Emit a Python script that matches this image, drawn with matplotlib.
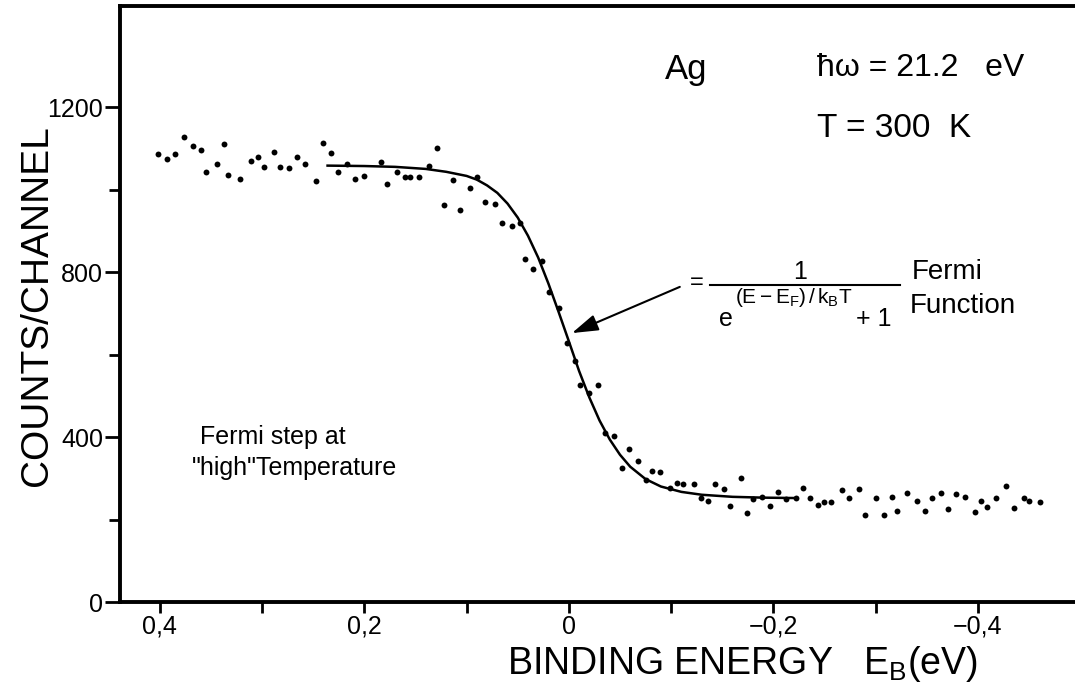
import numpy as np
import matplotlib
matplotlib.use('Agg')
import matplotlib.pyplot as plt
from matplotlib.ticker import FixedLocator, FuncFormatter

# lettering: Arial-like sans, fall back to DejaVu
plt.rcParams['font.family'] = ['Liberation Sans', 'DejaVu Sans']
plt.rcParams['mathtext.fontset'] = 'custom'
plt.rcParams['mathtext.rm'] = 'Liberation Sans'
plt.rcParams['mathtext.it'] = 'Liberation Sans'
plt.rcParams['mathtext.default'] = 'regular'

energy = [0.402, 0.393, 0.385, 0.376, 0.368, 0.360, 0.355, 0.344, 0.337, 0.333,
          0.322, 0.311, 0.304, 0.298, 0.288, 0.283, 0.274, 0.266, 0.258, 0.247,
          0.240, 0.233, 0.226, 0.217, 0.209, 0.200, 0.184, 0.178, 0.168, 0.160,
          0.155, 0.147, 0.137, 0.129, 0.122, 0.113, 0.106, 0.097, 0.090, 0.082,
          0.072, 0.065, 0.056, 0.048, 0.043, 0.035, 0.026, 0.019, 0.010, 0.002,
          -0.006, -0.011, -0.020, -0.028, -0.035, -0.044, -0.052, -0.059, -0.068, -0.075,
          -0.081, -0.089, -0.099, -0.106, -0.112, -0.122, -0.129, -0.136, -0.143, -0.152,
          -0.158, -0.168, -0.174, -0.180, -0.189, -0.197, -0.205, -0.212, -0.222, -0.229,
          -0.236, -0.244, -0.250, -0.256, -0.267, -0.274, -0.284, -0.290, -0.300, -0.308,
          -0.316, -0.321, -0.331, -0.340, -0.348, -0.355, -0.364, -0.371, -0.379, -0.387,
          -0.397, -0.403, -0.409, -0.418, -0.428, -0.435, -0.445, -0.450, -0.461]
counts = [1085, 1074, 1085, 1127, 1105, 1095, 1042, 1063, 1110, 1036,
          1025, 1070, 1079, 1055, 1090, 1054, 1053, 1078, 1062, 1021,
          1113, 1088, 1043, 1062, 1026, 1033, 1066, 1013, 1042, 1030,
          1031, 1031, 1057, 1100, 963, 1023, 950, 1003, 1030, 971,
          965, 918, 912, 920, 831, 807, 827, 752, 712, 627,
          584, 525, 506, 525, 410, 403, 324, 372, 343, 295,
          318, 315, 276, 288, 285, 287, 253, 244, 287, 273,
          232, 300, 215, 250, 254, 233, 267, 250, 252, 276,
          251, 236, 243, 242, 271, 252, 273, 212, 252, 211,
          255, 221, 264, 246, 220, 252, 265, 225, 263, 255,
          217, 245, 230, 252, 282, 229, 253, 244, 243]

# fitted Fermi edge
fit_energy = [0.236, 0.20, 0.17, 0.14, 0.12, 0.10, 0.09, 0.08, 0.07, 0.06,
              0.05, 0.04, 0.03, 0.02, 0.01, 0.0, -0.01, -0.02, -0.03, -0.04,
              -0.05, -0.06, -0.075, -0.09, -0.11, -0.13, -0.16, -0.19, -0.223]
fit_counts = [1058, 1057, 1055, 1050, 1043, 1033, 1024, 1010, 992, 966,
              932, 888, 835, 772, 703, 632, 560, 496, 440, 394,
              357, 328, 298, 280, 267, 260, 255, 253, 252]

x_major = [0.4, 0.2, 0.0, -0.2, -0.4]
x_minor = [0.3, 0.1, -0.1, -0.3]
y_major = [0, 400, 800, 1200]
y_minor = [200, 600, 1000]


def comma_label(v, pos):
    if abs(v) < 1e-9:
        return '0'
    return ('%.1f' % v).replace('.', ',').replace('-', '\u2212')


fig = plt.figure(figsize=(10.75, 6.85), dpi=100)
ax = fig.add_axes([120 / 1075, 83 / 685, 955 / 1075, 596 / 685])

ax.plot(fit_energy, fit_counts, color='black', lw=1.8, zorder=2)
ax.scatter(energy, counts, s=18, color='black', linewidths=0, zorder=3)

ax.set_xlim(0.439, -0.495)
ax.set_ylim(0, 1445)

ax.xaxis.set_major_locator(FixedLocator(x_major))
ax.xaxis.set_minor_locator(FixedLocator(x_minor))
ax.xaxis.set_major_formatter(FuncFormatter(comma_label))
ax.yaxis.set_major_locator(FixedLocator(y_major))
ax.yaxis.set_minor_locator(FixedLocator(y_minor))

for s in ['left', 'bottom', 'top']:
    ax.spines[s].set_linewidth(2.8)
ax.spines['right'].set_visible(False)
ax.tick_params(axis='both', which='both', direction='out', width=2.0, labelsize=18)
ax.tick_params(axis='x', which='both', length=8, pad=1)
ax.tick_params(axis='y', which='major', length=11, pad=1)
ax.tick_params(axis='y', which='minor', length=8)

ax.set_ylabel('COUNTS/CHANNEL', fontsize=28)
ax.yaxis.set_label_coords(-0.087, 0.498)
ax.set_xlabel(r'BINDING ENERGY   E$_{\mathrm{B}}$(eV)', fontsize=27)
ax.xaxis.set_label_coords(0.652, -0.104)
ax.xaxis.label.set_va('center')
ax.yaxis.label.set_va('center')

# labels inside the plot
ax.text(-0.094, 1290, 'Ag', fontsize=25, va='center', ha='left')
ax.text(-0.243, 1295, '\u0127\u03c9 = 21.2   eV', fontsize=23, va='center', ha='left')
ax.text(-0.243, 1149, 'T = 300  K', fontsize=24, va='center', ha='left')
ax.text(0.361, 400, 'Fermi step at', fontsize=18, va='center', ha='left')
ax.text(0.3685, 325, '"high"Temperature', fontsize=18, va='center', ha='left')

# Fermi function formula with arrow
ax.annotate('', xy=(-0.003, 652), xytext=(-0.1085, 764),
            arrowprops=dict(arrowstyle='-|>,head_length=0.8,head_width=0.25',
                            color='black', lw=1.5, mutation_scale=20,
                            shrinkA=0, shrinkB=0))
ax.text(-0.125, 773, '=', fontsize=17, va='center', ha='center')
ax.plot([-0.138, -0.3236], [768, 768], color='black', lw=1.5)
ax.text(-0.2258, 800, '1', fontsize=18, va='center', ha='center')
ax.text(-0.1466, 686, 'e', fontsize=18, va='center', ha='left')
ax.text(-0.1623, 739, r'$(E - E_F)\,/\,k_BT$', fontsize=15, va='center', ha='left')
ax.text(-0.2805, 686, '+ 1', fontsize=18, va='center', ha='left')
ax.text(-0.3353, 800, 'Fermi', fontsize=20, va='center', ha='left')
ax.text(-0.3333, 718, 'Function', fontsize=20, va='center', ha='left')

fig.savefig('out.png', dpi=100)
